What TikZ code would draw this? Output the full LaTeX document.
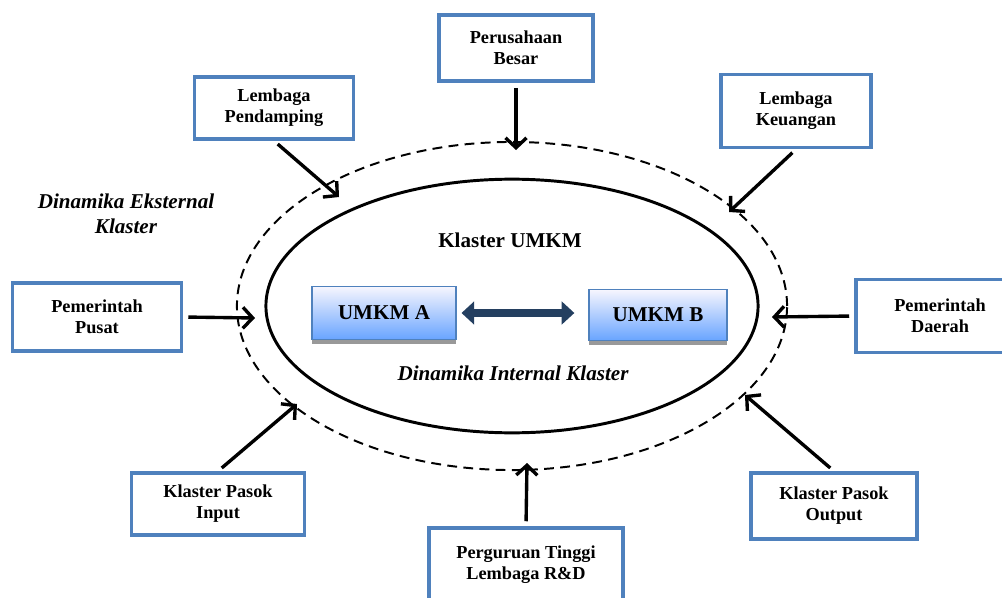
\documentclass[tikz,border=0pt]{standalone}
\usepackage{fontspec}
\setmainfont{Liberation Serif}
\usetikzlibrary{arrows.meta,shadows}
\definecolor{birukotak}{HTML}{4F81BD}
\definecolor{birugelap}{HTML}{243F60}
\tikzset{
  kotak/.style={draw=birukotak,line width=2.6pt,fill=white,align=center,inner sep=2pt,
    font=\bfseries\fontsize{13}{15}\selectfont},
  umkm/.style={draw=birukotak,line width=0.8pt,top color=white!60!pink!60!blue!8,bottom color={rgb,255:red,104;green,164;blue,255},
    font=\bfseries\fontsize{15}{18}\selectfont,
    drop shadow={shadow xshift=0pt,shadow yshift=-2.8pt,fill=black!40,opacity=1}},
  panah/.style={-{Straight Barb[length=7pt,width=15pt]},line width=2.4pt,shorten <=3.5pt},
  miring/.style={font=\bfseries\itshape\fontsize{15}{18}\selectfont,align=center},
}
\begin{document}
\begin{tikzpicture}[x=0.025cm,y=-0.025cm]
%\draw[help lines] (0,0) grid[step=100] (1002,598);
\useasboundingbox (0,0) rectangle (1002,598);
\draw[line width=1.4pt,dash pattern=on 7pt off 4.5pt] (512,306) ellipse [x radius=6.875cm,y radius=4.1cm];
\draw[line width=2.1pt] (512,306) ellipse [x radius=6.15cm,y radius=3.17cm];
\node[kotak,minimum width=3.85cm,minimum height=1.65cm] (besar) at (516,48) {Perusahaan\\Besar};
\node[kotak,minimum width=3.975cm,minimum height=1.55cm] (pendamping) at (274,108) {Lembaga\\Pendamping};
\node[kotak,minimum width=3.75cm,minimum height=1.825cm] (keuangan) at (796,111) {Lembaga\\Keuangan};
\node[kotak,minimum width=4.225cm,minimum height=1.7cm] (pusat) at (97,317) {Pemerintah\\Pusat};
\node[kotak,minimum width=4.2cm,minimum height=1.825cm] (daerah) at (940,316) {Pemerintah\\Daerah};
\node[kotak,minimum width=4.325cm,minimum height=1.55cm] (input) at (218,504) {Klaster Pasok\\Input};
\node[kotak,minimum width=4.15cm,minimum height=1.65cm] (output) at (834,506) {Klaster Pasok\\Output};
\node[kotak,minimum width=4.85cm,minimum height=1.85cm] (perguruan) at (526,565) {Perguruan Tinggi\\Lembaga R\&D};
\coordinate (uBesar) at (516,150);
\coordinate (uPendamping) at (339,197);
\coordinate (uKeuangan) at (729,212);
\coordinate (uPusat) at (255,318);
\coordinate (uDaerah) at (772,317);
\coordinate (uInput) at (297,404);
\coordinate (uOutput) at (745,395);
\coordinate (uPerguruan) at (527,463);
\foreach \n/\a/\u in {besar/south/uBesar,pendamping/south/uPendamping,keuangan/south/uKeuangan,
  pusat/east/uPusat,daerah/west/uDaerah,input/north/uInput,output/north/uOutput,perguruan/north/uPerguruan}
  \draw[panah] (\n.\a) -- (\u);
\node[font=\bfseries\fontsize{15}{18}\selectfont] (judul) at (510,240) {Klaster UMKM};
\node[umkm,minimum width=3.6cm,minimum height=1.33cm] (umkmA) at (384,313) {UMKM A};
\node[umkm,minimum width=3.45cm,minimum height=1.28cm] (umkmB) at (658,315) {UMKM B};
\draw[birugelap,line width=5.6pt,{Triangle[length=9pt,width=16pt]}-{Triangle[length=9pt,width=16pt]},shorten <=3.5pt,shorten >=10pt]
  (umkmA.east) -- (umkmA.east -| umkmB.west);
\node[miring] (internal) at (513,373) {Dinamika Internal Klaster};
\node[miring] (eksternal) at (126,214) {Dinamika Eksternal\\Klaster};
\end{tikzpicture}
\end{document}
